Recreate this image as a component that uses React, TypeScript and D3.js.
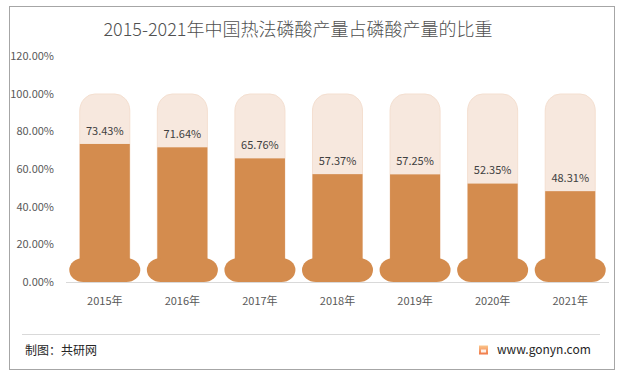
import React from "react";
import * as d3 from "d3";

const years = ["2015年", "2016年", "2017年", "2018年", "2019年", "2020年", "2021年"];
const shares = [73.43, 71.64, 65.76, 57.37, 57.25, 52.35, 48.31];
const yTicks = [0, 20, 40, 60, 80, 100, 120];
const title = "2015-2021年中国热法磷酸产量占磷酸产量的比重";

const W = 621;
const H = 377;

export default function App() {
  const x = d3.scaleBand<string>().domain(years).range([66, 609]).padding(0);
  const y = d3.scaleLinear().domain([0, 100]).range([282, 94]);
  const tubeW = x.bandwidth() * 0.645;
  const bulbW = 71;
  const bulbH = 24;
  const dark = "#D48C4E";
  const light = "#F7E8DE";
  const font = "'Noto Sans CJK SC', 'Noto Sans', sans-serif";

  return (
    <svg width={W} height={H} style={{ position: "absolute", left: 0, top: 0, background: "#fff" }} fontFamily={font}>
      <defs>
        <linearGradient id="logoGrad" x1="0" y1="0" x2="0" y2="1">
          <stop offset="0%" stopColor="#FBC58A" />
          <stop offset="100%" stopColor="#F07848" />
        </linearGradient>
      </defs>
      <rect x={9.5} y={6.5} width={605} height={363} fill="#fff" stroke="#A6A6A6" strokeWidth={1} />
      <text x={298} y={36} textAnchor="middle" fontSize={18} fill="#505050" fontWeight={300}>{title}</text>
      {yTicks.map((t) => (
        <text key={t} x={54} y={y(t)} dy="0.35em" textAnchor="end" fontSize={11} fill="#595959">
          {d3.format(".2f")(t)}%
        </text>
      ))}
      <line x1={66} x2={609} y1={y(0) + 0.5} y2={y(0) + 0.5} stroke="#D9D9D9" strokeWidth={1} />
      {years.map((yr, i) => {
        const cx = (x(yr) as number) + x.bandwidth() / 2;
        const x0 = cx - tubeW / 2;
        const top = y(100);
        const tubeBottom = y(0) - bulbH / 2;
        const rx = 15;
        const ry = 17;
        const tubePath = `M${x0},${tubeBottom} L${x0},${top + ry} A${rx},${ry} 0 0 1 ${x0 + rx},${top} L${x0 + tubeW - rx},${top} A${rx},${ry} 0 0 1 ${x0 + tubeW},${top + ry} L${x0 + tubeW},${tubeBottom} Z`;
        const v = shares[i];
        return (
          <g key={yr}>
            <path d={tubePath} fill={light} stroke="#F4DFD0" strokeWidth={1} />
            <rect x={x0} y={y(v)} width={tubeW} height={tubeBottom - y(v) + 2} fill={dark} />
            <rect x={cx - bulbW / 2} y={y(0) - bulbH} width={bulbW} height={bulbH} rx={14} ry={12} fill={dark} />
            <text x={cx} y={y(v) - 13} dy="0.35em" textAnchor="middle" fontSize={11} fill="#404040">
              {v.toFixed(2)}%
            </text>
            <text x={cx} y={301.5} dy="0.35em" textAnchor="middle" fontSize={11} fill="#595959">{yr}</text>
          </g>
        );
      })}
      <line x1={22} x2={600} y1={334.5} y2={334.5} stroke="#D9D9D9" strokeWidth={1} />
      <text x={25} y={351} dy="0.35em" fontSize={12} fill="#262626">制图：共研网</text>
      <rect x={479} y={345.5} width={9} height={9} fill="url(#logoGrad)" />
      <path d="M481,349.5 h5 v3 h-5 z" fill="#fff" opacity={0.85} />
      <text x={497} y={350} dy="0.35em" fontSize={12} fill="#262626">www.gonyn.com</text>
    </svg>
  );
}
